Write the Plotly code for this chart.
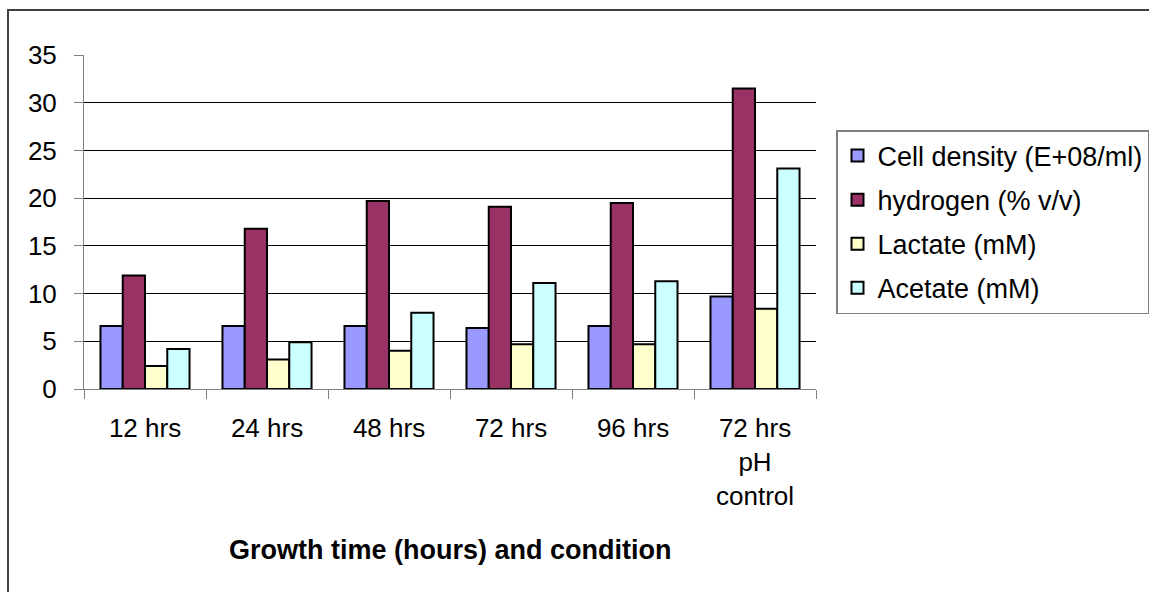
import plotly.graph_objects as go

# Sampling points / culture conditions
categories = ["12 hrs", "24 hrs", "48 hrs", "72 hrs", "96 hrs", "72 hrs<br>pH<br>control"]

# Measured quantities per sampling point
cell_density = [6.6, 6.6, 6.6, 6.4, 6.6, 9.7]
hydrogen = [11.9, 16.8, 19.7, 19.1, 19.5, 31.5]
lactate = [2.4, 3.1, 4.0, 4.7, 4.7, 8.4]
acetate = [4.2, 4.9, 8.0, 11.1, 11.3, 23.1]

series = [
    ("Cell density (E+08/ml)", cell_density, "#9999FF"),
    ("hydrogen (% v/v)", hydrogen, "#993366"),
    ("Lactate (mM)", lactate, "#FFFFCC"),
    ("Acetate (mM)", acetate, "#CCFFFF"),
]

FONT = "Liberation Sans, Arial, Helvetica, sans-serif"
W, H = 1149, 592
L, R, T, B = 84, 333, 55, 203
plot_h = H - T - B
plot_w = W - L - R

fig = go.Figure()
for name, vals, color in series:
    fig.add_trace(go.Bar(
        x=categories, y=vals, name=name, legendgroup=name,
        marker=dict(color=color, line=dict(color="black", width=2)),
    ))

fig.update_layout(
    width=W, height=H,
    margin=dict(l=L, r=R, t=T, b=B, pad=0),
    paper_bgcolor="white", plot_bgcolor="white",
    font=dict(family=FONT, size=26, color="black"),
    barmode="group", bargap=0.27, bargroupgap=0,
    showlegend=True,
    legend=dict(
        xref="container", yref="container",
        x=836 / W, xanchor="left",
        y=(H - 130) / H, yanchor="top",
        bgcolor="white", bordercolor="#808080", borderwidth=1.5,
        font=dict(family=FONT, size=27, color="black"),
        tracegroupgap=6, traceorder="grouped",
    ),
    xaxis=dict(
        type="category", tickson="boundaries",
        showline=True, linecolor="#808080", linewidth=1,
        ticks="outside", ticklen=9, tickcolor="#808080", tickwidth=1,
        showgrid=False, tickfont=dict(size=26), tickangle=0,
        ticklabelstandoff=16,
    ),
    yaxis=dict(
        range=[0, 35], dtick=5, tick0=0,
        showline=True, linecolor="#808080", linewidth=1,
        ticks="outside", ticklen=9, tickcolor="#808080", tickwidth=1,
        showgrid=True, gridcolor="black", gridwidth=1,
        zeroline=True, zerolinecolor="black", zerolinewidth=1,
        tickfont=dict(size=26), ticklabelstandoff=12,
    ),
    annotations=[dict(
        text="<b>Growth time (hours) and condition</b>",
        xref="paper", yref="paper", x=0.5, y=(H - B - 550) / plot_h,
        xanchor="center", yanchor="middle", showarrow=False,
        font=dict(family=FONT, size=27, color="black"),
    )],
    shapes=[dict(
        type="rect", xref="paper", yref="paper",
        x0=(8 - L) / plot_w, x1=1.6,
        y0=-1.0, y1=(H - B - 10) / plot_h,
        line=dict(color="#404040", width=2), fillcolor="rgba(0,0,0,0)",
        layer="below",
    )],
)

fig.write_html("out.html")
